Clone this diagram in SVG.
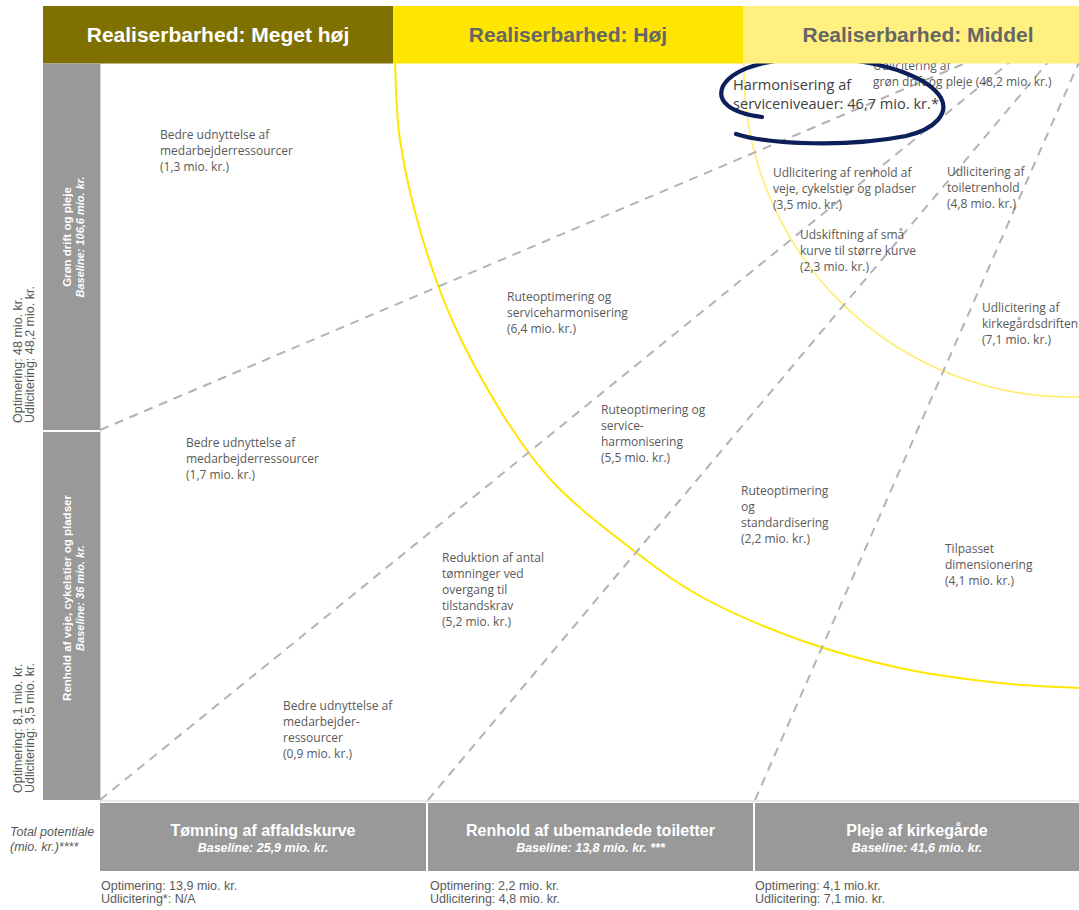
<svg xmlns="http://www.w3.org/2000/svg" width="1079" height="910" viewBox="0 0 1079 910">
<style>
.lbl{font-family:"Open Sans","Noto Sans",sans-serif;font-size:12px;fill:#595959}
.side{font-family:"Liberation Sans",Arial,sans-serif;font-size:12.5px;fill:#595959}
.bot{font-family:"Liberation Sans",Arial,sans-serif;font-size:12.5px;fill:#595959}
.hdr{font-family:"Liberation Sans",Arial,sans-serif;font-size:21px;font-weight:bold;text-anchor:middle}
.bar{fill:#999999}
.bt{font-family:"Liberation Sans",Arial,sans-serif;font-weight:bold;fill:#ffffff;text-anchor:middle}
.bi{font-style:italic}
.dash{stroke:#b3b3b3;stroke-width:2;stroke-dasharray:9 7;fill:none}
.axis{stroke:#d4d4d4;stroke-width:1;fill:none}
</style>
<rect x="0" y="0" width="1079" height="910" fill="#ffffff"/>

<g id="curves" fill="none">
<path d="M395,63 C395.8,75.8 395.8,112.2 400,140 C404.2,167.8 411.3,200 420,230 C428.7,260 438.7,290 452,320 C465.3,350 483.5,383.3 500,410 C516.5,436.7 531,458.3 551,480 C571,501.7 595.2,520.7 620,540 C644.8,559.3 670,579.3 700,596 C730,612.7 766.7,628 800,640 C833.3,652 866.7,660.8 900,668 C933.3,675.2 970.2,679.7 1000,683 C1029.8,686.3 1065.8,687.2 1079,688" stroke="#FFE600" stroke-width="2"/>
<path d="M744,63 A327 327 0 0 0 1079,396.9" stroke="#FFEE70" stroke-width="1.6"/>
</g>

<g id="axes">
<line class="axis" x1="100.5" y1="63" x2="100.5" y2="801"/>
<line class="axis" x1="100" y1="801" x2="1079" y2="801"/>
</g>

<g id="connectors">
<line class="dash" x1="100" y1="430" x2="968" y2="62"/>
<line class="dash" x1="100" y1="800" x2="1010" y2="62"/>
<line class="dash" x1="428" y1="800" x2="1048" y2="62"/>
<line class="dash" x1="755" y1="800" x2="1080" y2="60"/>
</g>

<g id="labels">
<text class="lbl" x="160" y="139"><tspan x="160">Bedre udnyttelse af</tspan><tspan x="160" dy="16">medarbejderressourcer</tspan><tspan x="160" dy="16">(1,3 mio. kr.)</tspan></text>
<text class="lbl" x="186" y="447"><tspan x="186">Bedre udnyttelse af</tspan><tspan x="186" dy="16">medarbejderressourcer</tspan><tspan x="186" dy="16">(1,7 mio. kr.)</tspan></text>
<text class="lbl" x="507" y="301"><tspan x="507">Ruteoptimering og</tspan><tspan x="507" dy="16">serviceharmonisering</tspan><tspan x="507" dy="16">(6,4 mio. kr.)</tspan></text>
<text class="lbl" x="601" y="414"><tspan x="601">Ruteoptimering og</tspan><tspan x="601" dy="16">service-</tspan><tspan x="601" dy="16">harmonisering</tspan><tspan x="601" dy="16">(5,5 mio. kr.)</tspan></text>
<text class="lbl" x="442" y="562"><tspan x="442">Reduktion af antal</tspan><tspan x="442" dy="16">tømninger ved</tspan><tspan x="442" dy="16">overgang til</tspan><tspan x="442" dy="16">tilstandskrav</tspan><tspan x="442" dy="16">(5,2 mio. kr.)</tspan></text>
<text class="lbl" x="283" y="710"><tspan x="283">Bedre udnyttelse af</tspan><tspan x="283" dy="16">medarbejder-</tspan><tspan x="283" dy="16">ressourcer</tspan><tspan x="283" dy="16">(0,9 mio. kr.)</tspan></text>
<text class="lbl" x="741" y="495"><tspan x="741">Ruteoptimering</tspan><tspan x="741" dy="16">og</tspan><tspan x="741" dy="16">standardisering</tspan><tspan x="741" dy="16">(2,2 mio. kr.)</tspan></text>
<text class="lbl" x="945" y="553"><tspan x="945">Tilpasset</tspan><tspan x="945" dy="16">dimensionering</tspan><tspan x="945" dy="16">(4,1 mio. kr.)</tspan></text>
<text class="lbl" x="773" y="177"><tspan x="773">Udlicitering af renhold af</tspan><tspan x="773" dy="16">veje, cykelstier og pladser</tspan><tspan x="773" dy="16">(3,5 mio. kr.)</tspan></text>
<text class="lbl" x="947" y="176"><tspan x="947">Udlicitering af</tspan><tspan x="947" dy="16">toiletrenhold</tspan><tspan x="947" dy="16">(4,8 mio. kr.)</tspan></text>
<text class="lbl" x="800" y="239"><tspan x="800">Udskiftning af små</tspan><tspan x="800" dy="16">kurve til større kurve</tspan><tspan x="800" dy="16">(2,3 mio. kr.)</tspan></text>
<text class="lbl" x="982" y="312"><tspan x="982">Udlicitering af</tspan><tspan x="982" dy="16">kirkegårdsdriften</tspan><tspan x="982" dy="16">(7,1 mio. kr.)</tspan></text>
<text class="lbl" x="873" y="70"><tspan x="873">Udlicitering af</tspan><tspan x="873" dy="16">grøn drift og pleje (48,2 mio. kr.)</tspan></text>
</g>

<g id="highlight">
<text class="lbl" style="font-size:14.6px;fill:#404040" x="733" y="90"><tspan x="733">Harmonisering af</tspan><tspan x="733" dy="18.5">serviceniveauer: 46,7 mio. kr.*</tspan></text>
<path d="M736,134 C770,145 850,147 906,136 C936,129 949,113 941,98 C930,79 890,62 830,58.5 C780,56 735,65 723,86 C716,101 730,113 762,117" fill="none" stroke="#0c1f5b" stroke-width="4.2" stroke-linecap="round"/>
</g>

<g id="header-meget-hoej">
<rect x="43" y="6" width="350" height="57.5" fill="#7F7100"/>
<text class="hdr" x="218" y="42" fill="#ffffff">Realiserbarhed: Meget høj</text>
</g>
<g id="header-hoej">
<rect x="393" y="6" width="350" height="57.5" fill="#FFE600"/>
<text class="hdr" x="568" y="42" fill="#666666">Realiserbarhed: Høj</text>
</g>
<g id="header-middel">
<rect x="743" y="6" width="336" height="57.5" fill="#FFF07F"/>
<text class="hdr" x="918" y="42" fill="#666666">Realiserbarhed: Middel</text>
</g>

<g id="row-groen-drift">
<rect class="bar" x="43" y="63.5" width="57" height="366.5"/>
<g transform="translate(71,237) rotate(-90)">
<text class="bt" x="0" y="0" font-size="11.5">Grøn drift og pleje</text>
<text class="bt bi" x="0" y="13" font-size="11">Baseline: 106,6 mio. kr.</text>
</g>
<text class="side" transform="translate(22,423) rotate(-90)"><tspan x="0" y="0">Optimering: 48 mio. kr.</tspan><tspan x="0" y="12">Udlicitering: 48,2 mio. kr.</tspan></text>
</g>

<g id="row-renhold-veje">
<rect class="bar" x="43" y="432" width="57" height="368"/>
<g transform="translate(71,598) rotate(-90)">
<text class="bt" x="0" y="0" font-size="11.5">Renhold af veje, cykelstier og pladser</text>
<text class="bt bi" x="0" y="13" font-size="11">Baseline: 36 mio. kr.</text>
</g>
<text class="side" transform="translate(22,793) rotate(-90)"><tspan x="0" y="0">Optimering: 8,1 mio. kr.</tspan><tspan x="0" y="12">Udlicitering: 3,5 mio. kr.</tspan></text>
</g>

<g id="total-label">
<text class="bot bi" x="10" y="836" font-size="13">Total potentiale</text>
<text class="bot bi" x="10" y="851" font-size="13">(mio. kr.)****</text>
</g>

<g id="col-affaldskurve">
<rect class="bar" x="100" y="803" width="326" height="68"/>
<text class="bt" x="263" y="836" font-size="16">Tømning af affaldskurve</text>
<text class="bt bi" x="263" y="852" font-size="12.5">Baseline: 25,9 mio. kr.</text>
<text class="bot" x="101"><tspan x="101" y="890">Optimering: 13,9 mio. kr.</tspan><tspan x="101" y="903">Udlicitering*: N/A</tspan></text>
</g>

<g id="col-toiletter">
<rect class="bar" x="428" y="803" width="325" height="68"/>
<text class="bt" x="590.5" y="836" font-size="16">Renhold af ubemandede toiletter</text>
<text class="bt bi" x="590.5" y="852" font-size="12.5">Baseline: 13,8 mio. kr. ***</text>
<text class="bot" x="430"><tspan x="430" y="890">Optimering: 2,2 mio. kr.</tspan><tspan x="430" y="903">Udlicitering: 4,8 mio. kr.</tspan></text>
</g>

<g id="col-kirkegaarde">
<rect class="bar" x="755" y="803" width="324" height="68"/>
<text class="bt" x="917" y="836" font-size="16">Pleje af kirkegårde</text>
<text class="bt bi" x="917" y="852" font-size="12.5">Baseline: 41,6 mio. kr.</text>
<text class="bot" x="755"><tspan x="755" y="890">Optimering: 4,1 mio.kr.</tspan><tspan x="755" y="903">Udlicitering: 7,1 mio. kr.</tspan></text>
</g>
</svg>
